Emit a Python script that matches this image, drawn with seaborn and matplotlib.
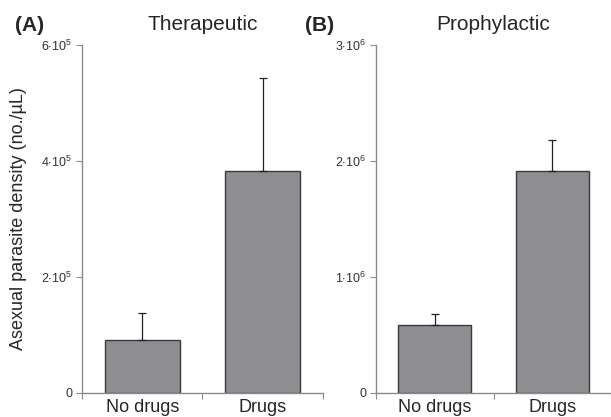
import numpy as np
import pandas as pd
import matplotlib.pyplot as plt
import seaborn as sns

groups = ['No drugs', 'Drugs']
ther_mean = [0.92e5, 3.83e5]
ther_err = [0.46e5, 1.60e5]
proph_mean = [0.59e6, 1.91e6]
proph_err = [0.09e6, 0.27e6]

sns.set_style('white')
plt.rcParams['font.family'] = ['Liberation Sans', 'DejaVu Sans']
plt.rcParams['mathtext.fontset'] = 'custom'
plt.rcParams['mathtext.rm'] = 'Liberation Sans'
plt.rcParams['mathtext.it'] = 'Liberation Sans:italic'

fig = plt.figure(figsize=(6.11, 4.17), dpi=100)
ax1 = fig.add_axes([0.1342, 0.0576, 0.3944, 0.8345])
ax2 = fig.add_axes([0.6154, 0.0576, 0.3846, 0.8345])

bar_col = '#8e8e92'
axis_col = '#8a8a8a'


def panel(ax, means, errs, ymax, ticks, ticklabels, title, tag, tagx):
    df = pd.DataFrame({'group': groups, 'value': means})
    sns.barplot(data=df, x='group', y='value', ax=ax, color=bar_col,
                width=0.62, errorbar=None, edgecolor='#3a3a3a',
                linewidth=1.0, saturation=1)
    ax.errorbar(range(len(groups)), means, yerr=[np.zeros(len(errs)), errs],
                fmt='none', ecolor='#222222', elinewidth=0.9,
                capsize=3, capthick=0.9)
    ax.set_xlim(-0.5, 1.5)
    ax.set_ylim(0, ymax)
    ax.set_yticks(ticks)
    ax.set_yticklabels(ticklabels, fontsize=9, color='#333333')
    ax.set_xticks([-0.5, 0.5, 1.5])
    ax.set_xticklabels([])
    ax.set_xticks([0, 1], minor=True)
    ax.set_xticklabels(groups, minor=True, fontsize=13)
    ax.tick_params(axis='x', which='minor', length=0, pad=4)
    ax.tick_params(axis='x', which='major', length=4, color=axis_col,
                   direction='out', bottom=True)
    ax.tick_params(axis='y', length=4, color=axis_col, direction='out',
                   left=True, pad=3)
    ax.set_xlabel('')
    ax.set_ylabel('')
    for s in ['top', 'right']:
        ax.spines[s].set_visible(False)
    for s in ['left', 'bottom']:
        ax.spines[s].set_color(axis_col)
        ax.spines[s].set_linewidth(1.0)
    ax.set_title(title, fontsize=15, pad=11)
    fig.text(tagx, 0.915, tag, fontsize=15, fontweight='bold',
             ha='left', va='bottom')


panel(ax1, ther_mean, ther_err, 6e5, [0, 2e5, 4e5, 6e5],
      ['0', r'$2{\cdot}10^5$', r'$4{\cdot}10^5$', r'$6{\cdot}10^5$'],
      'Therapeutic', '(A)', 0.024)
panel(ax2, proph_mean, proph_err, 3e6, [0, 1e6, 2e6, 3e6],
      ['0', r'$1{\cdot}10^6$', r'$2{\cdot}10^6$', r'$3{\cdot}10^6$'],
      'Prophylactic', '(B)', 0.50)

ax1.set_ylabel('Asexual parasite density (no./µL)', fontsize=13, labelpad=10)

fig.savefig('out.png', dpi=100)
